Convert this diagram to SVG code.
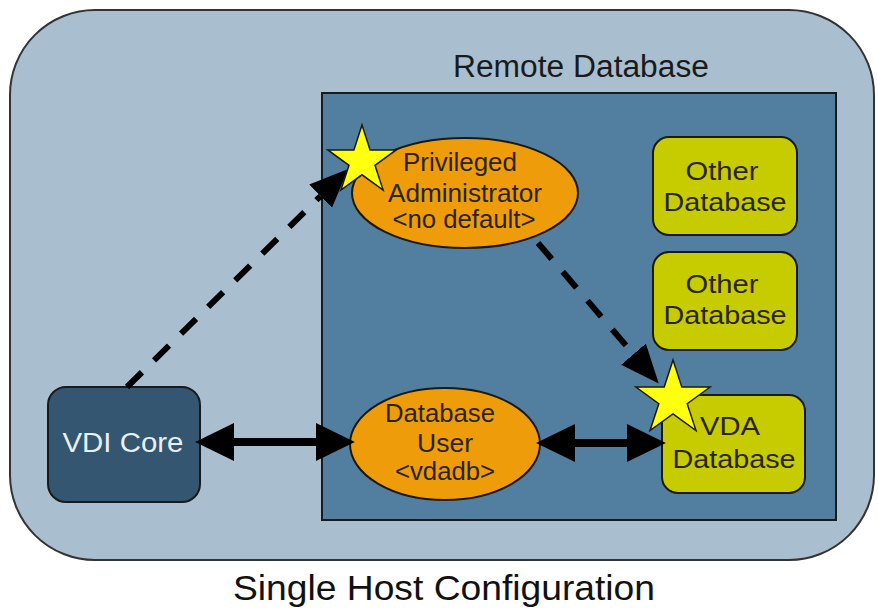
<svg xmlns="http://www.w3.org/2000/svg" width="878" height="610" viewBox="0 0 878 610">
<defs>
<style>
text{font-family:"Liberation Sans",Arial,sans-serif;text-anchor:middle;fill:#2a2410}
.lbl{font-size:25px}
.db{fill:#c6cc00;stroke:#1a1a10;stroke-width:2}
.ell{fill:#ee9c0a;stroke:#1a1a10;stroke-width:2}
.star{fill:#ffff10;stroke:#1a1a10;stroke-width:1.5}
.dash{fill:none;stroke:#000;stroke-width:6;stroke-dasharray:21 17}
.solid{fill:none;stroke:#000;stroke-width:8}
</style>
<marker id="hd" markerUnits="userSpaceOnUse" markerWidth="40" markerHeight="40" viewBox="0 -15 32 30" refX="0" refY="0" orient="auto"><path d="M0,-13 L31,0 L0,13 z" fill="#000"/></marker>
<marker id="hs" markerUnits="userSpaceOnUse" markerWidth="40" markerHeight="40" viewBox="0 -18 36 36" refX="0" refY="0" orient="auto-start-reverse"><path d="M0,-17 L35,0 L0,17 z" fill="#000"/></marker>
</defs>
<rect width="878" height="610" fill="#fff"/>
<g id="host">
<rect x="10" y="10" width="864" height="550" rx="85" ry="85" fill="#a9bfd0" stroke="#333" stroke-width="2"/>
<text x="444" y="600" textLength="422" lengthAdjust="spacingAndGlyphs" style="font-size:35px;fill:#111">Single Host Configuration</text>
</g>
<g id="remote">
<rect x="322" y="93" width="514" height="427" fill="#527fa0" stroke="#1a1a1a" stroke-width="2"/>
<text x="581" y="77" textLength="256" lengthAdjust="spacingAndGlyphs" style="font-size:31px;fill:#1a1a1a">Remote Database</text>
</g>
<g id="vdicore">
<rect x="48" y="387" width="152" height="115" rx="18" fill="#355670" stroke="#1a1a1a" stroke-width="2"/>
<text x="123" y="452" textLength="121" lengthAdjust="spacingAndGlyphs" style="font-size:27px;fill:#e8f0f4">VDI Core</text>
</g>
<g id="other1">
<rect class="db" x="653" y="137" width="144" height="98" rx="16"/>
<text class="lbl" x="722" y="180" textLength="73" lengthAdjust="spacingAndGlyphs">Other</text>
<text class="lbl" x="725" y="211" textLength="123" lengthAdjust="spacingAndGlyphs">Database</text>
</g>
<g id="other2">
<rect class="db" x="653" y="252" width="144" height="98" rx="16"/>
<text class="lbl" x="722" y="293" textLength="73" lengthAdjust="spacingAndGlyphs">Other</text>
<text class="lbl" x="725" y="324" textLength="123" lengthAdjust="spacingAndGlyphs">Database</text>
</g>
<g id="vda">
<rect class="db" x="662" y="395" width="143" height="98" rx="16"/>
<text class="lbl" x="730" y="435" textLength="60" lengthAdjust="spacingAndGlyphs">VDA</text>
<text class="lbl" x="734" y="468" textLength="123" lengthAdjust="spacingAndGlyphs">Database</text>
</g>
<g id="privadmin">
<ellipse class="ell" cx="465" cy="193" rx="113" ry="55"/>
<text class="lbl" x="460" y="171" textLength="114" lengthAdjust="spacingAndGlyphs">Privileged</text>
<text class="lbl" x="465" y="202" textLength="154" lengthAdjust="spacingAndGlyphs">Administrator</text>
<text class="lbl" x="464" y="228" textLength="143" lengthAdjust="spacingAndGlyphs">&lt;no default&gt;</text>
</g>
<g id="dbuser">
<ellipse class="ell" cx="445" cy="444" rx="95" ry="56"/>
<text class="lbl" x="440" y="422" textLength="110" lengthAdjust="spacingAndGlyphs">Database</text>
<text class="lbl" x="445" y="452" textLength="56" lengthAdjust="spacingAndGlyphs">User</text>
<text class="lbl" x="445" y="480" textLength="100" lengthAdjust="spacingAndGlyphs">&lt;vdadb&gt;</text>
</g>
<g id="connectors">
<path class="dash" d="M127,387 L320.6,196.1" marker-end="url(#hd)"/>
<path class="dash" d="M538,243 L633.5,354.2" marker-end="url(#hd)"/>
<path class="solid" d="M234,442 L316,442" marker-start="url(#hs)" marker-end="url(#hs)"/>
<path class="solid" d="M575,443 L627,443" marker-start="url(#hs)" marker-end="url(#hs)"/>
</g>
<g id="stars">
<polygon class="star" points="362,125 370.1,149.9 396.2,149.9 375.0,165.3 383.1,190.1 362,174.8 340.9,190.1 349.0,165.3 327.8,149.9 353.9,149.9"/>
<polygon class="star" points="673,360 681.8,387.0 710.1,387.0 687.2,403.7 696.0,430.6 673,414.0 650.0,430.6 658.8,403.7 635.9,387.0 664.2,387.0"/>
</g>
</svg>
